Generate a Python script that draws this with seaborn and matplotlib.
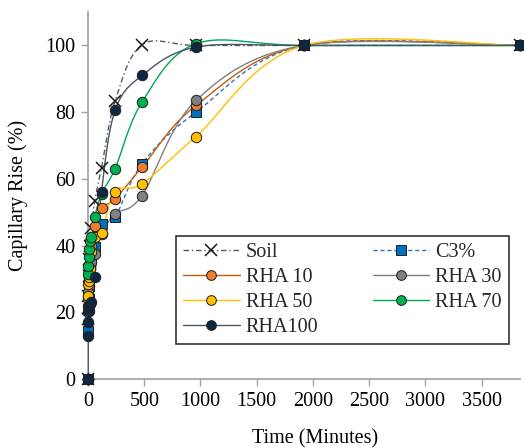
import numpy as np
import pandas as pd
import matplotlib
matplotlib.use("Agg")
import matplotlib.pyplot as plt
from matplotlib.lines import Line2D
import seaborn as sns

# time in minutes
time_min = [0, 1, 2, 5, 10, 15, 30, 60, 120, 240, 480, 960, 1920, 3840]

soil = [0, 18, 25, 31, 36, 40, 45.4, 53.4, 63.4, 83.3, 100.2, 100, 100, 100]
c3 = [0, 14.5, 21, 24, 28, 32, 36, 39.5, 46.5, 48.5, 64.5, 80, 100, 100]
rha10 = [0, 22, 25, 28, 31, 34, 40, 46, 51.4, 54, 63.5, 82, 100, 100]
rha30 = [0, 24, 26, 30, 32, 33, 35, 37.5, 43.5, 49.5, 55, 83.5, 100, 100]
rha50 = [0, 25, 28.5, 29.5, 30.5, 33, 38, 42.5, 43.7, 56.2, 58.5, 72.7, 100, 100]
rha70 = [0, 31.5, 34, 36.5, 39, 41.5, 42.5, 48.5, 55.5, 63, 83, 100.5, 100, 100]
rha100 = [0, 13, 17, 20.5, 22, 22.5, 23, 30.5, 56.2, 80.5, 91, 99.5, 100, 100]

labels = ["Soil", "C3%", "RHA 10", "RHA 30", "RHA 50", "RHA 70", "RHA100"]
values = [soil, c3, rha10, rha30, rha50, rha70, rha100]

styles = {
    "Soil": dict(lc="#595959", ls=(0, (4, 2, 1, 2)), m="x", fc="black", ms=8),
    "C3%": dict(lc="#2E75B6", ls=(0, (3, 2)), m="s", fc="#0070C0", ms=7),
    "RHA 10": dict(lc="#C55A11", ls="-", m="o", fc="#ED7D31", ms=7.5),
    "RHA 30": dict(lc="#7F7F7F", ls="-", m="o", fc="#808080", ms=7.5),
    "RHA 50": dict(lc="#FFC000", ls="-", m="o", fc="#FFC000", ms=7.5),
    "RHA 70": dict(lc="#00A650", ls="-", m="o", fc="#00B050", ms=7.5),
    "RHA100": dict(lc="#44546A", ls="-", m="o", fc="#0E2841", ms=7.5),
}


def smooth(x, y, n=30):
    # excel-like smoothed line: bezier segments with catmull-rom control points
    p = np.column_stack([x, y]).astype(float)
    p = np.vstack([p[0], p, p[-1]])
    t = np.linspace(0, 1, n)[:, None]
    out = []
    for i in range(1, len(p) - 2):
        p0, p1, p2, p3 = p[i - 1], p[i], p[i + 1], p[i + 2]
        c1 = p1 + (p2 - p0) / 6
        c2 = p2 - (p3 - p1) / 6
        seg = ((1 - t) ** 3) * p1 + 3 * ((1 - t) ** 2) * t * c1 + 3 * (1 - t) * t ** 2 * c2 + t ** 3 * p2
        out.append(seg)
    out = np.vstack(out)
    return out[:, 0], out[:, 1]


sns.set_theme(style="white")
plt.rcParams["font.family"] = ["Liberation Serif", "DejaVu Serif"]

fig = plt.figure(figsize=(5.24, 4.48), dpi=100)
ax = fig.add_axes([0.168, 0.154, 0.824, 0.819])

handles = []
for i, (lab, val) in enumerate(zip(labels, values)):
    st = styles[lab]
    sx, sy = smooth(time_min, val)
    curve = pd.DataFrame({"t": sx, "v": sy})
    sns.lineplot(data=curve, x="t", y="v", ax=ax, color=st["lc"], lw=1.0,
                 sort=False, estimator=None, zorder=2 + i)
    ax.lines[-1].set_linestyle(st["ls"])
    if st["m"] == "x":
        ax.plot(time_min, val, linestyle="none", marker="x", color="#1a1a1a",
                ms=st["ms"], mew=1.1, zorder=10 + i, clip_on=False)
        h = Line2D([], [], color=st["lc"], ls=st["ls"], lw=1.0, marker="x",
                   mec="#1a1a1a", ms=st["ms"], mew=1.1)
    else:
        ax.plot(time_min, val, linestyle="none", marker=st["m"], mfc=st["fc"],
                mec="#1f1f1f", mew=0.7, ms=st["ms"], zorder=10 + i, clip_on=False)
        h = Line2D([], [], color=st["lc"], ls=st["ls"], lw=1.0, marker=st["m"],
                   mfc=st["fc"], mec="#1f1f1f", mew=0.7, ms=st["ms"] - 0.5)
    handles.append(h)

ax.set_xlim(0, 3840)
ax.set_ylim(0, 110)
ax.set_xticks(np.arange(0, 3501, 500))
ax.set_yticks(np.arange(0, 101, 20))
for side in ["top", "right"]:
    ax.spines[side].set_visible(False)
for side in ["left", "bottom"]:
    ax.spines[side].set_color("#A0A0A0")
    ax.spines[side].set_linewidth(1.2)
ax.tick_params(axis="both", which="major", direction="out", length=5, width=1,
               color="#A0A0A0", labelsize=14.5, labelcolor="black", pad=4,
               bottom=True, left=True)
ax.set_xlabel("Time (Minutes)", fontsize=14.5, color="black")
ax.set_ylabel("Capillary Rise (%)", fontsize=14.5, color="black")
ax.xaxis.set_label_coords(0.525, -0.137)
ax.yaxis.set_label_coords(-0.14, 0.5)

order = [0, 2, 4, 6, 1, 3, 5]
leg = ax.legend([handles[k] for k in order], [labels[k] for k in order],
                ncol=2, loc="lower left", bbox_to_anchor=(0.204, 0.095, 0.771, 0.311),
                mode="expand", fontsize=14.5, frameon=True, fancybox=False,
                borderaxespad=0, handlelength=2.8, handletextpad=0.3,
                labelspacing=0.3, columnspacing=1.0, borderpad=0.35)
leg.get_frame().set_edgecolor("black")
leg.get_frame().set_linewidth(1.2)
leg.set_zorder(30)

fig.savefig("out.png", dpi=100)
